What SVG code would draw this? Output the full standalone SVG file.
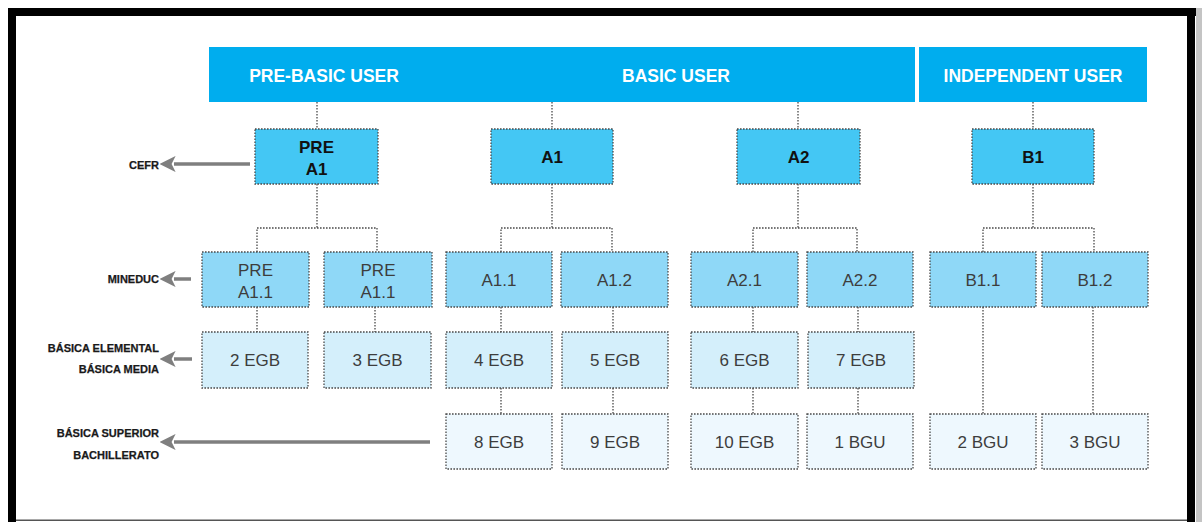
<svg xmlns="http://www.w3.org/2000/svg" width="1202" height="522" viewBox="0 0 1202 522">
  <style>
    .hdr { fill: #00adee; }
    .hdr-t { font-family: "Liberation Sans", Arial, sans-serif; font-weight: bold; font-size: 17.5px; fill: #ffffff; text-anchor: middle; }
    .box { stroke: #4a4a4a; stroke-width: 1.3; stroke-dasharray: 1.6 1.4; }
    .l1 { fill: #44c7f4; }
    .l2 { fill: #8fd8f7; }
    .l3 { fill: #d4effb; }
    .l4 { fill: #eef8fe; }
    .t1 { font-family: "Liberation Sans", Arial, sans-serif; font-weight: bold; font-size: 17px; fill: #111111; text-anchor: middle; }
    .t { font-family: "Liberation Sans", Arial, sans-serif; font-size: 17px; fill: #3d3d3d; text-anchor: middle; }
    .lbl { font-family: "Liberation Sans", Arial, sans-serif; font-weight: bold; font-size: 11px; fill: #1a1a1a; stroke: #1a1a1a; stroke-width: 0.25; text-anchor: end; }
    .conn { fill: none; stroke: #4a4a4a; stroke-width: 1.3; stroke-dasharray: 1.6 1.4; }
    .arrow { fill: none; stroke: #7f7f7f; stroke-width: 3.5; marker-end: url(#head); }
  </style>
  <defs>
    <marker id="head" viewBox="0 0 10 10" refX="1" refY="5" markerWidth="4.6" markerHeight="4.6" orient="auto" markerUnits="strokeWidth">
      <path d="M10,5 L0,0 L2.5,5 L0,10 Z" fill="#7f7f7f"/>
    </marker>
  </defs>

  <!-- page and frame -->
  <rect x="0" y="0" width="1202" height="522" fill="#ffffff"/>
  <rect x="1196" y="8" width="6" height="514" fill="#c4c4c4"/>
  <rect x="8" y="8" width="1188" height="8" fill="#000000"/>
  <rect x="8" y="8" width="8" height="514" fill="#000000"/>
  <rect x="1187" y="8" width="8" height="514" fill="#000000"/>
  <rect x="16" y="519.5" width="1171" height="1.5" fill="#555555"/>

  <!-- user bands -->
  <g id="band-basic">
    <rect class="hdr" x="209" y="47" width="706" height="55"/>
    <text class="hdr-t" x="324" y="82">PRE-BASIC USER</text>
    <text class="hdr-t" x="676" y="82">BASIC USER</text>
  </g>
  <g id="band-independent">
    <rect class="hdr" x="919" y="47" width="228" height="55"/>
    <text class="hdr-t" x="1033" y="82">INDEPENDENT USER</text>
  </g>

  <!-- connectors -->
  <g id="connectors">
    <path class="conn" d="M317,102 V129 M552,102 V129 M798,102 V129 M1033,102 V129"/>
    <path class="conn" d="M317,184 V228 M257,252 V228 H377 V252"/>
    <path class="conn" d="M552,184 V228 M501,252 V228 H612 V252"/>
    <path class="conn" d="M798,184 V228 M753,252 V228 H857 V252"/>
    <path class="conn" d="M1033,184 V228 M983,252 V228 H1094 V252"/>
    <path class="conn" d="M257,307 V332 M375,307 V332 M501,307 V332 M613,307 V332 M753,307 V332 M858,307 V332"/>
    <path class="conn" d="M501,388 V414 M613,388 V414 M753,388 V414 M858,388 V414"/>
    <path class="conn" d="M983,307 V414 M1093,307 V414"/>
    <path class="arrow" d="M250,164 H174"/>
    <path class="arrow" d="M191,279 H174"/>
    <path class="arrow" d="M192,359 H174"/>
    <path class="arrow" d="M430,442 H174"/>
  </g>

  <!-- row labels -->
  <g id="labels">
    <text class="lbl" x="159" y="169">CEFR</text>
    <text class="lbl" x="159" y="283">MINEDUC</text>
    <text class="lbl" x="159" y="352">BÁSICA ELEMENTAL</text>
    <text class="lbl" x="159" y="373">BÁSICA MEDIA</text>
    <text class="lbl" x="159" y="437">BÁSICA SUPERIOR</text>
    <text class="lbl" x="159" y="459">BACHILLERATO</text>
  </g>

  <!-- CEFR levels -->
  <g id="pre-a1"><rect class="box l1" x="255" y="129" width="123" height="55"/><text class="t1" x="316.5" y="153">PRE</text><text class="t1" x="316.5" y="175">A1</text></g>
  <g id="a1"><rect class="box l1" x="491" y="129" width="122" height="55"/><text class="t1" x="552" y="163">A1</text></g>
  <g id="a2"><rect class="box l1" x="737" y="129" width="123" height="55"/><text class="t1" x="798.5" y="163">A2</text></g>
  <g id="b1"><rect class="box l1" x="972" y="129" width="122" height="55"/><text class="t1" x="1033" y="163">B1</text></g>

  <!-- MINEDUC sublevels -->
  <g id="pre-a1-1a"><rect class="box l2" x="202" y="252" width="107" height="55"/><text class="t" x="255.5" y="276">PRE</text><text class="t" x="255.5" y="298">A1.1</text></g>
  <g id="pre-a1-1b"><rect class="box l2" x="324" y="252" width="108" height="55"/><text class="t" x="378" y="276">PRE</text><text class="t" x="378" y="298">A1.1</text></g>
  <g id="a1-1"><rect class="box l2" x="446" y="252" width="106" height="55"/><text class="t" x="499" y="285.5">A1.1</text></g>
  <g id="a1-2"><rect class="box l2" x="561" y="252" width="107" height="55"/><text class="t" x="614.5" y="285.5">A1.2</text></g>
  <g id="a2-1"><rect class="box l2" x="691" y="252" width="107" height="55"/><text class="t" x="744.5" y="285.5">A2.1</text></g>
  <g id="a2-2"><rect class="box l2" x="807" y="252" width="106" height="55"/><text class="t" x="860" y="285.5">A2.2</text></g>
  <g id="b1-1"><rect class="box l2" x="930" y="252" width="106" height="55"/><text class="t" x="983" y="285.5">B1.1</text></g>
  <g id="b1-2"><rect class="box l2" x="1042" y="252" width="106" height="55"/><text class="t" x="1095" y="285.5">B1.2</text></g>

  <!-- Básica elemental / media -->
  <g id="egb-2"><rect class="box l3" x="202" y="332" width="106" height="56"/><text class="t" x="255" y="366">2 EGB</text></g>
  <g id="egb-3"><rect class="box l3" x="324" y="332" width="107" height="56"/><text class="t" x="377.5" y="366">3 EGB</text></g>
  <g id="egb-4"><rect class="box l3" x="446" y="332" width="106" height="56"/><text class="t" x="499" y="366">4 EGB</text></g>
  <g id="egb-5"><rect class="box l3" x="562" y="332" width="106" height="56"/><text class="t" x="615" y="366">5 EGB</text></g>
  <g id="egb-6"><rect class="box l3" x="691" y="332" width="107" height="56"/><text class="t" x="744.5" y="366">6 EGB</text></g>
  <g id="egb-7"><rect class="box l3" x="808" y="332" width="106" height="56"/><text class="t" x="861" y="366">7 EGB</text></g>

  <!-- Básica superior / bachillerato -->
  <g id="egb-8"><rect class="box l4" x="446" y="414" width="106" height="55"/><text class="t" x="499" y="448">8 EGB</text></g>
  <g id="egb-9"><rect class="box l4" x="562" y="414" width="106" height="55"/><text class="t" x="615" y="448">9 EGB</text></g>
  <g id="egb-10"><rect class="box l4" x="691" y="414" width="107" height="55"/><text class="t" x="744.5" y="448">10 EGB</text></g>
  <g id="bgu-1"><rect class="box l4" x="807" y="414" width="106" height="55"/><text class="t" x="860" y="448">1 BGU</text></g>
  <g id="bgu-2"><rect class="box l4" x="930" y="414" width="106" height="55"/><text class="t" x="983" y="448">2 BGU</text></g>
  <g id="bgu-3"><rect class="box l4" x="1042" y="414" width="106" height="55"/><text class="t" x="1095" y="448">3 BGU</text></g>
</svg>
